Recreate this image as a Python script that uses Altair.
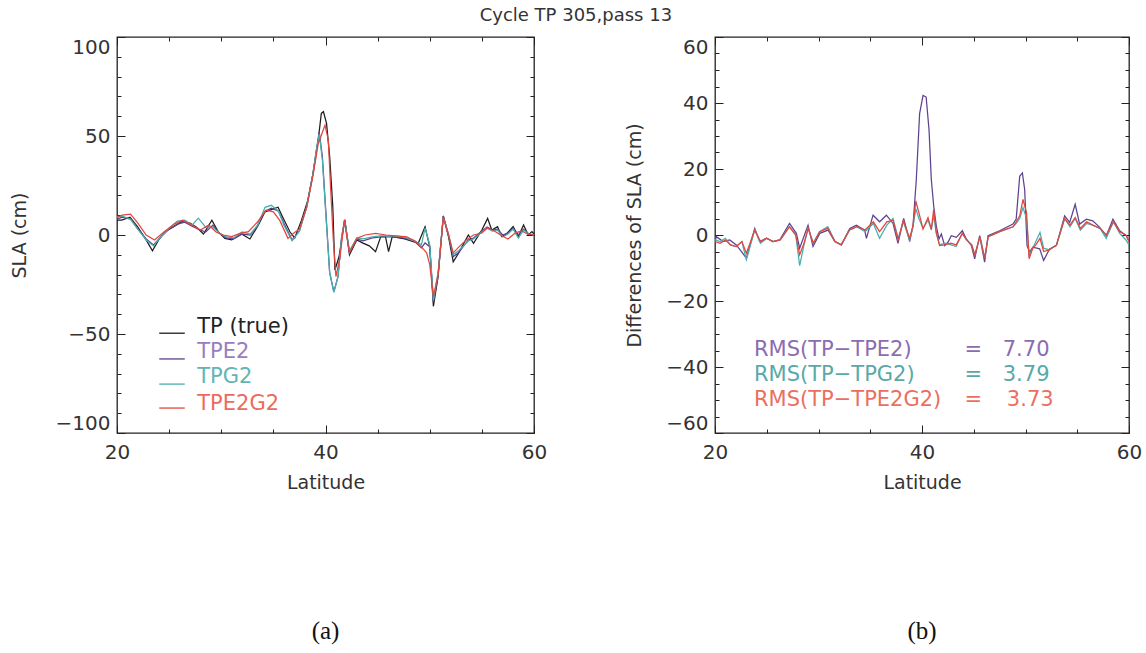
import altair as alt
import pandas as pd

# ---------------- data ----------------
# Panel (a): SLA (cm) versus latitude
tp_lat = [20.0, 20.45, 21.25, 22.0, 22.85, 23.4, 24.0, 24.6, 25.4, 26.2, 27.0, 27.6, 28.3, 29.1, 29.7,
          30.35, 31.0, 31.95, 32.75, 33.55, 34.2, 34.8, 35.45, 35.9, 36.6, 37.05, 37.7, 38.3, 38.8,
          39.3, 39.6, 39.8, 40.1, 40.4, 40.7, 40.9, 41.3, 41.85, 42.3, 43.0, 43.65, 44.2, 44.8, 45.3,
          45.75, 46.05, 46.4, 47.6, 48.9, 49.55, 50.0, 50.35, 50.8, 51.3, 51.8, 52.25, 52.75, 53.7,
          54.2, 55.0, 55.55, 55.95, 56.5, 56.9, 57.4, 58.0, 58.5, 59.0, 59.45, 59.8, 60.0]
tp_val = [7.5, 7.5, 9, 4, -3, -8, -2.5, 1.7, 4, 6.7, 6, 4, 0.5, 7.5, 1.7,
          -1.7, -2.5, 0.5, -2, 5, 11.7, 12.8, 14, 9, 1.5, -1.5, 7.5, 17.5, 31,
          48, 61.4, 62.3, 56.4, 39.6, 14.3, -17.7, -11, 7.6, -10, -2.5, -4.2, -5.5, -8.4, -0.8,
          -0.8, -8.4, -0.8, -2, -4.2, 4.2, -6, -36, -21, 9.6, -0.8, -13.5, -9.3, 0,
          -4.2, 2.5, 8.4, 2.5, 4.2, -0.8, 0.8, 4.2, -0.8, 5, 0, 1.7, 0.5]

e2_lat = [20.0, 20.5, 21.3, 22.0, 22.8, 23.5, 24.2, 25.0, 25.8, 26.5, 27.2, 27.8, 28.5, 29.2, 29.8,
          30.5, 31.2, 32.0, 32.8, 33.5, 34.2, 34.8, 35.5, 36.0, 36.8, 37.5, 38.2, 38.8, 39.1, 39.4,
          39.7, 40.1, 40.4, 40.8, 41.2, 41.55, 41.85, 42.3, 43.0, 43.6, 44.5, 45.3, 46.3, 47.5, 48.5,
          49.2, 49.55, 50.0, 50.35, 50.8, 51.3, 51.8, 52.25, 52.75, 53.7, 54.2, 55.0, 55.5, 56.0,
          56.5, 57.0, 57.5, 58.0, 58.5, 59.0, 59.5, 60.0]
e2_val = [8, 9, 8, 3, -2, -5, -1, 3, 5.5, 6.5, 4.5, 3, 1.5, 5, 1,
          -1.5, -2, 0.5, 0, 5, 12, 13.5, 12, 6, -2.5, 2, 14.3, 31, 42, 52,
          39.6, 6, -19, -28.6, -21, -0.8, 7.6, -9, -2, -3, -1.5, -1, -1, -1.5, -3,
          -6.5, -4, -6, -34, -20, 9.6, 0, -11, -9, -2.5, -1.5, 2, 4, 2.5,
          3, 0, 1, 3.5, 0, 3, 0.5, 0]
g2_val = [9, 9.5, 8, 3, -2.5, -5.5, -1, 3.5, 7, 7.5, 5, 8.5, 4, 4, 1,
          -1, -1.5, 1.5, 0.5, 5, 14, 15, 12, 5, -3, 2, 14.3, 31, 42, 51,
          38, 5, -19, -29, -21, -0.8, 7, -8, -1.5, -2, -1, -0.5, -0.5, -1, -3,
          -5, 3.5, -5, -33, -19, 9, 0.5, -10, -8, -3, -2, 1.5, 3.5, 2,
          2.5, -1, 0.5, 3, -1.5, 2.5, 0.5, 0]

e2g2_lat = [20.0, 20.5, 21.3, 22.0, 22.8, 23.6, 24.5, 25.5, 26.3, 27.2, 28.0, 28.8, 29.5, 30.2,
            31.0, 31.8, 32.6, 33.5, 34.3, 35.0, 35.6, 36.4, 36.9, 37.5, 38.2, 38.8, 39.3, 39.95,
            40.27, 40.5, 40.75, 41.0, 41.4, 41.8, 42.3, 43.0, 43.8, 44.8, 45.8, 46.8, 47.8, 48.6,
            49.2, 49.7, 50.0, 50.35, 50.8, 51.3, 51.8, 52.25, 52.8, 53.5, 54.2, 55.0, 55.5, 56.2,
            56.8, 57.5, 58.2, 58.8, 59.4, 60.0]
e2g2_val = [9, 10, 10.5, 6, 0, -2.5, 1.5, 5.5, 7.5, 5, 2.5, 5, 1.5, 0,
            -0.8, 0.8, 1.7, 6.7, 12.5, 11.7, 7.5, -1.7, 0.8, 3, 14, 30, 46, 55.5,
            48, 22.7, -2.5, -21, -11, 7.6, -9, -1.7, 0, 0.8, 0, -0.5, -1, -3,
            -6, -9, -15, -31, -20, 9, 0, -9, -6, -2.5, 0, 1, 3.4, 2,
            0, -2, 1, 2, 0.5, 0]

# Panel (b): differences of SLA (cm) versus latitude
d_e2_lat = [20.0, 20.13, 20.78, 21.42, 22.06, 23.03, 23.84, 24.32, 24.96, 25.6, 26.25, 27.2, 27.86,
            28.18, 28.99, 29.47, 30.12, 30.92, 31.57, 32.21, 33.02, 33.66, 34.46, 34.63, 35.27,
            35.91, 36.56, 37.2, 37.68, 38.23, 38.81, 39.13, 39.45, 39.77, 40.1, 40.4, 40.68, 40.9,
            41.13, 41.38, 41.64, 41.87, 42.19, 42.51, 42.83, 43.32, 43.9, 44.28, 44.77, 45.09,
            45.57, 46.05, 46.38, 47.5, 48.79, 49.1, 49.44, 49.7, 49.92, 50.15, 50.4, 50.7, 51.37,
            51.75, 52.33, 52.98, 53.78, 54.27, 54.8, 55.23, 55.88, 56.5, 57.17, 57.81, 58.45,
            59.1, 59.74, 60.0]
d_e2_val = [-2, -0.5, -2, -1.5, -3, -7, 2, -2, -1, -2, -1.5, 3.5, 0.5,
            -4, 3, -3.5, 0.5, 1.5, -2, -3, 2, 3, 1.5, -1, 6,
            4, 6, 3.5, -2.5, 5, -2, 2.8, 16.8, 36.8, 42.3, 41.8, 31.8, 16.8,
            8.8, 2.8, -1.2, 0.3, -3.2, -2.2, -0.2, -0.7, 1.3, -1.2, -3.2, -7.2,
            -0.2, -8.2, -0.2, 1.3, 3.3, 4.8, 17.8, 18.8, 13.8, -3.2, -5.2, -3.7, -4.2,
            -7.7, -4.2, -3.2, 5.8, 3.8, 9.3, 3.3, 4.8, 4.3, 2.3, -0.2, 4.8,
            1.3, -0.2, -2]

d_lat = [20.0, 20.5, 21.0, 21.5, 22.06, 22.6, 23.03, 23.84, 24.4, 25.0, 25.6, 26.3, 27.2, 27.8,
         28.18, 28.6, 29.0, 29.5, 30.1, 30.9, 31.6, 32.2, 33.0, 33.7, 34.5, 35.3, 35.9, 36.6,
         37.2, 37.7, 38.2, 38.8, 39.13, 39.4, 39.7, 40.1, 40.58, 40.9, 41.13, 41.38, 41.7, 42.2,
         42.8, 43.3, 43.9, 44.3, 44.8, 45.1, 45.6, 46.05, 46.4, 47.5, 48.8, 49.1, 49.44, 49.76,
         50.1, 50.35, 50.7, 51.0, 51.4, 51.75, 52.3, 53.0, 53.78, 54.3, 54.8, 55.3, 55.9, 56.5,
         57.2, 57.8, 58.5, 59.1, 59.7, 60.0]
d_g2_val = [-1.5, -2, -1, -3, -3.5, -2, -7.5, 1.5, -2.5, -1, -2, -1.5, 2.5, 0,
            -9.3, -3, 2, -2.5, 1, 2.5, -2, -3, 1.5, 2.5, 1, 3.5, -1, 3,
            5, -1, 4, -1.5, 2.5, 8, 5, 2, 4.5, 1.5, 6, 0.5, -3, -2.5,
            -3, -3.5, 0.5, -1.5, -3, -6, -0.5, -7, -0.5, 1, 2.5, 3.5, 5, 8.3,
            5, -6, -4, -2, 0.8, -4, -4.5, -3, 5, 2.5, 5, 1.5, 3.5, 3,
            2, -1, 4, 0.5, -1.5, -3]
d_e2g2_val = [-2, -2.5, -1.5, -3, -3.5, -2, -5.5, 1.5, -2, -1, -2, -1.5, 2.5, 0,
              -6, -2.5, 2, -2.5, 1, 2, -2, -3, 1.5, 2.5, 1.5, 4, 1, 4,
              4.5, -1.5, 4.5, -1, 2.8, 10.3, 6.8, 1.8, 5.3, 1.8, 7.8, 0.8, -3.2, -3,
              -2.5, -3, 0.5, -1.5, -3, -6, -0.5, -7, -0.5, 1, 2.5, 4, 5.8, 10.8,
              6.8, -7.2, -4, -3, -1, -5, -4.5, -3, 5, 3, 5.3, 2, 4, 3,
              2, 0, 4, 1, 0, -2]

series_a = ["TP (true)", "TPE2", "TPG2", "TPE2G2"]
series_b = ["RMS(TP−TPE2)", "RMS(TP−TPG2)", "RMS(TP−TPE2G2)"]
rms_values = ["7.70", "3.79", "3.73"]

# ---------------- styles ----------------
line_colors_a = ["#1c1c1c", "#5a3f8c", "#48aeb0", "#e2463f"]
text_colors_a = ["#222222", "#9a7cc0", "#62b5b3", "#ec6a5e"]
line_colors_b = ["#5e428f", "#48aeb0", "#e2463f"]
text_colors_b = ["#8c6cb0", "#58a9a8", "#ea6f5f"]

FONT = "DejaVu Sans"
TXT = "#333333"


def long_df(parts):
    rows = []
    for name, lats, vals in parts:
        assert len(lats) == len(vals), (name, len(lats), len(vals))
        for la, v in zip(lats, vals):
            rows.append({"lat": la, "val": v, "series": name})
    return pd.DataFrame(rows)


df_a = long_df([(series_a[0], tp_lat, tp_val), (series_a[1], e2_lat, e2_val),
                (series_a[2], e2_lat, g2_val), (series_a[3], e2g2_lat, e2g2_val)])
df_b = long_df([(series_b[0], d_e2_lat, d_e2_val), (series_b[1], d_lat, d_g2_val),
                (series_b[2], d_lat, d_e2g2_val)])


def frame_layers(df, ydom, ymajor, yminor, ytitle, cdomain, crange, ytitle_pad):
    xs = alt.Scale(domain=[20, 60], nice=False, zero=False)
    ys = alt.Scale(domain=ydom, nice=False, zero=False)
    base = alt.Chart(df)
    common = dict(domain=False, grid=False, tickColor="#222", tickWidth=1)

    def ax(orient, values, size, labels=False, title=None, **kw):
        return alt.Axis(orient=orient, values=values, tickSize=size, offset=-size,
                        labels=labels, title=title, **common, **kw)

    lines = base.mark_line(strokeWidth=1.25, clip=True).encode(
        x=alt.X("lat:Q", scale=xs, axis=ax("bottom", [20, 40, 60], 8, labels=True, title="Latitude",
                                            labelPadding=9, titlePadding=11, labelFlush=False)),
        y=alt.Y("val:Q", scale=ys, axis=ax("left", ymajor, 8, labels=True, title=ytitle,
                                           labelPadding=7, titlePadding=ytitle_pad, labelFlush=True)),
        color=alt.Color("series:N", scale=alt.Scale(domain=cdomain, range=crange), legend=None),
    )
    xminor = list(range(20, 61, 5))
    g1 = base.mark_line(strokeOpacity=0).encode(
        x=alt.X("lat:Q", scale=xs, axis=ax("bottom", xminor, 4)),
        y=alt.Y("val:Q", scale=ys, axis=ax("left", yminor, 4)),
        detail="series:N")
    g2 = base.mark_line(strokeOpacity=0).encode(
        x=alt.X("lat:Q", scale=xs, axis=ax("top", [20, 40, 60], 8)),
        y=alt.Y("val:Q", scale=ys, axis=ax("right", ymajor, 8)),
        detail="series:N")
    g3 = base.mark_line(strokeOpacity=0).encode(
        x=alt.X("lat:Q", scale=xs, axis=ax("top", xminor, 4)),
        y=alt.Y("val:Q", scale=ys, axis=ax("right", yminor, 4)),
        detail="series:N")
    return [lines, g1, g2, g3], xs, ys


# ---------------- panel (a) ----------------
layers_a, xs_a, ys_a = frame_layers(df_a, [-100, 100], [-100, -50, 0, 50, 100],
                                    list(range(-90, 100, 10)), "SLA (cm)", series_a, line_colors_a, 26)
leg_a = pd.DataFrame({
    "label": series_a,
    "color": text_colors_a,
    "lcolor": line_colors_a,
    "x0": [24.05] * 4, "x1": [26.5] * 4, "xt": [27.7] * 4,
    "yl": [-49.6, -62.6, -75.3, -87.4],
    "yt": [-46.7, -59.1, -71.6, -85.4],
})
leg_lines = alt.Chart(leg_a).mark_rule(strokeWidth=1.3).encode(
    x=alt.X("x0:Q", scale=xs_a, axis=None), x2="x1:Q",
    y=alt.Y("yl:Q", scale=ys_a, axis=None), color=alt.Color("lcolor:N", scale=None))
leg_text = alt.Chart(leg_a).mark_text(align="left", baseline="middle", font=FONT, fontSize=21).encode(
    x=alt.X("xt:Q", scale=xs_a, axis=None), y=alt.Y("yt:Q", scale=ys_a, axis=None),
    text="label:N", color=alt.Color("color:N", scale=None))

panel_a = alt.layer(*layers_a, leg_lines, leg_text).resolve_axis(x="independent", y="independent").properties(
    width=417, height=396,
    title=alt.Title("(a)", orient="bottom", frame="group", anchor="middle", font="Liberation Serif",
                    fontSize=25, fontWeight="normal", color="#111", offset=127))

# ---------------- panel (b) ----------------
layers_b, xs_b, ys_b = frame_layers(df_b, [-60, 60], [-60, -40, -20, 0, 20, 40, 60],
                                    list(range(-55, 60, 5)), "Differences of SLA (cm)", series_b,
                                    line_colors_b, 21)
rms_df = pd.DataFrame({
    "text": series_b + ["=", "=", "="] + rms_values,
    "x": [23.77] * 3 + [44.1, 44.1, 44.1] + [47.8, 47.8, 48.2],
    "y": [-34.9, -42.4, -50.0] * 3,
    "color": text_colors_b * 3,
})
rms_text = alt.Chart(rms_df).mark_text(align="left", baseline="middle", font=FONT, fontSize=21).encode(
    x=alt.X("x:Q", scale=xs_b, axis=None), y=alt.Y("y:Q", scale=ys_b, axis=None),
    text="text:N", color=alt.Color("color:N", scale=None))

panel_b = alt.layer(*layers_b, rms_text).resolve_axis(x="independent", y="independent").properties(
    width=414, height=396,
    title=alt.Title("(b)", orient="bottom", frame="group", anchor="middle", font="Liberation Serif",
                    fontSize=25, fontWeight="normal", color="#111", offset=127))

chart = alt.hconcat(panel_a, panel_b, spacing=77).resolve_scale(color="independent").properties(
    title=alt.Title("Cycle TP 305,pass 13", font=FONT, fontSize=18, fontWeight="normal",
                    color=TXT, anchor="middle", offset=11),
).configure(
    padding={"left": 9, "top": 6, "right": 2, "bottom": 2},
    background="white",
).configure_view(stroke="#222", strokeWidth=1.3).configure_axis(
    labelFont=FONT, labelFontSize=20, labelColor=TXT,
    titleFont=FONT, titleFontSize=19, titleFontWeight="normal", titleColor=TXT,
)

chart.save("out.html", embed_options={"renderer": "svg", "actions": False})
